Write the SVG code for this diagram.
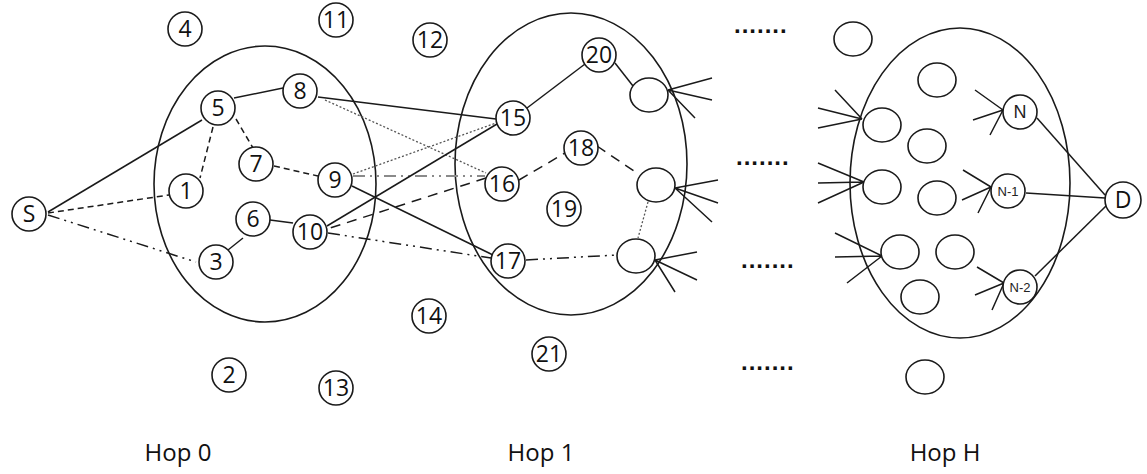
<svg xmlns="http://www.w3.org/2000/svg" width="1147" height="474" viewBox="0 0 1147 474">
<style>
.n{fill:#fff;stroke:#1a1a1a;stroke-width:1.6}
.e{fill:none;stroke:#1a1a1a;stroke-width:1.6}
.t{font-family:"Open Sans","Liberation Sans",sans-serif;font-size:23px;fill:#111;text-anchor:middle;dominant-baseline:central}
.ts{font-family:"Liberation Sans",Arial,sans-serif;fill:#222;text-anchor:middle;dominant-baseline:central}
.hop{font-family:"Open Sans","Liberation Sans",sans-serif;font-size:24px;fill:#111;text-anchor:middle}
.dots{font-family:"Liberation Sans",sans-serif;font-size:24px;font-weight:bold;fill:#111;letter-spacing:1px}
.l{fill:none;stroke:#1a1a1a;stroke-width:1.5}
.dash{stroke-dasharray:6 4}
.ldash{stroke-dasharray:10 7}
.ddd{stroke-dasharray:12 5 2 5 2 5}
.dot{stroke:#555;stroke-dasharray:2 2;stroke-width:1.3}
.gray{stroke:#8a8a8a;stroke-width:2.2;stroke-dasharray:12 5 2 5 2 5}
</style>

<g id="regions">
<ellipse id="hop0" class="e" cx="265" cy="184" rx="111" ry="138"/>
<ellipse id="hop1" class="e" cx="571" cy="164" rx="116" ry="151"/>
<ellipse id="hopH" class="e" cx="960" cy="183" rx="110" ry="155"/>
</g>

<g id="connectors">
<line class="l" x1="48" y1="212" x2="202" y2="120"/>
<line class="l dash" x1="48" y1="213" x2="169" y2="195"/>
<line class="l ddd" x1="48" y1="215" x2="196" y2="262"/>
<line class="l" x1="234" y1="98" x2="283" y2="88"/>
<line class="l dash" x1="213" y1="127" x2="200" y2="178"/>
<line class="l dash" x1="236" y1="119" x2="253" y2="148"/>
<line class="l dash" x1="274" y1="166" x2="318" y2="176"/>
<line class="l" x1="270" y1="220" x2="293" y2="223"/>
<line class="l" x1="228" y1="250" x2="243" y2="238"/>
<line class="l" x1="318" y1="97" x2="496" y2="119"/>
<line class="l dot" x1="325" y1="100" x2="486" y2="173"/>
<line class="l dot" x1="353" y1="174" x2="496" y2="123"/>
<line class="l gray" x1="353" y1="176" x2="485" y2="176"/>
<line class="l" x1="497" y1="124" x2="327" y2="226"/>
<line class="l ldash" x1="486" y1="178" x2="327" y2="229"/>
<line class="l" x1="352" y1="186" x2="493" y2="255"/>
<line class="l ddd" x1="328" y1="233" x2="491" y2="258"/>
<line class="l" x1="527" y1="108" x2="585" y2="64"/>
<line class="l" x1="615" y1="63" x2="633" y2="86"/>
<line class="l ldash" x1="519" y1="180" x2="565" y2="153"/>
<line class="l ldash" x1="597" y1="146" x2="637" y2="173"/>
<line class="l ddd" x1="526" y1="260" x2="617" y2="255"/>
<line class="l dot" x1="648" y1="202" x2="638" y2="238"/>
<path class="l" d="M712 78 L668 90 M712 100 L668 90 M695 118 L668 90"/>
<path class="l" d="M718 180 L675 188 M718 203 L675 188 M712 222 L675 188"/>
<path class="l" d="M697 252 L655 260 M697 280 L655 260 M675 292 L655 260"/>
<path class="l" d="M818 108 L862 119 M818 128 L862 119 M835 90 L862 119"/>
<path class="l" d="M818 163 L864 182 M818 183 L864 182 M818 203 L864 182"/>
<path class="l" d="M835 233 L882 256 M835 257 L882 256 M847 283 L882 256"/>
<path class="l" d="M975 90 L1003 110 M973 120 L1003 110 M990 135 L1003 110"/>
<path class="l" d="M963 170 L991 187 M962 200 L991 187 M978 213 L991 187"/>
<path class="l" d="M977 267 L1004 283 M975 295 L1004 283 M992 310 L1004 283"/>
<line class="l" x1="1037" y1="118" x2="1105" y2="195"/>
<line class="l" x1="1026" y1="193" x2="1105" y2="198"/>
<line class="l" x1="1035" y1="276" x2="1106" y2="206"/>
</g>

<g id="node-S"><circle class="n" cx="29" cy="214" r="17"/><text class="t" x="29" y="213">S</text></g>
<g id="node-4"><circle class="n" cx="185" cy="29" r="17"/><text class="t" x="185" y="28">4</text></g>
<g id="node-11"><circle class="n" cx="336" cy="20" r="17"/><text class="t" x="336" y="19">11</text></g>
<g id="node-12"><circle class="n" cx="430" cy="40" r="17"/><text class="t" x="430" y="39">12</text></g>
<g id="node-5"><circle class="n" cx="218" cy="108" r="17"/><text class="t" x="218" y="107">5</text></g>
<g id="node-8"><circle class="n" cx="300" cy="91" r="17"/><text class="t" x="300" y="90">8</text></g>
<g id="node-7"><circle class="n" cx="256" cy="164" r="17"/><text class="t" x="256" y="163">7</text></g>
<g id="node-9"><circle class="n" cx="335" cy="180" r="17"/><text class="t" x="335" y="179">9</text></g>
<g id="node-1"><circle class="n" cx="186" cy="191" r="17"/><text class="t" x="186" y="190">1</text></g>
<g id="node-6"><circle class="n" cx="253" cy="219" r="17"/><text class="t" x="253" y="218">6</text></g>
<g id="node-10"><circle class="n" cx="310" cy="232" r="17"/><text class="t" x="310" y="231">10</text></g>
<g id="node-3"><circle class="n" cx="216" cy="262" r="17"/><text class="t" x="216" y="261">3</text></g>
<g id="node-2"><circle class="n" cx="229" cy="375" r="17"/><text class="t" x="229" y="374">2</text></g>
<g id="node-13"><circle class="n" cx="336" cy="388" r="17"/><text class="t" x="336" y="387">13</text></g>
<g id="node-14"><circle class="n" cx="429" cy="316" r="17"/><text class="t" x="429" y="315">14</text></g>
<g id="node-15"><circle class="n" cx="513" cy="118" r="17"/><text class="t" x="513" y="117">15</text></g>
<g id="node-16"><circle class="n" cx="502" cy="184" r="17"/><text class="t" x="502" y="183">16</text></g>
<g id="node-18"><circle class="n" cx="581" cy="148" r="17"/><text class="t" x="581" y="147">18</text></g>
<g id="node-19"><circle class="n" cx="564" cy="209" r="17"/><text class="t" x="564" y="208">19</text></g>
<g id="node-20"><circle class="n" cx="599" cy="55" r="17"/><text class="t" x="599" y="54">20</text></g>
<g id="node-17"><circle class="n" cx="508" cy="261" r="17"/><text class="t" x="508" y="260">17</text></g>
<g id="node-21"><circle class="n" cx="549" cy="354" r="17"/><text class="t" x="549" y="353">21</text></g>

<g id="node-h1a"><ellipse class="n" cx="649" cy="95" rx="19" ry="17"/></g>
<g id="node-h1b"><ellipse class="n" cx="656" cy="185" rx="19" ry="17"/></g>
<g id="node-h1c"><ellipse class="n" cx="636" cy="256" rx="19" ry="17"/></g>

<g id="node-hH1"><ellipse class="n" cx="853" cy="39" rx="19" ry="17"/></g>
<g id="node-hH2"><ellipse class="n" cx="937" cy="80" rx="19" ry="17"/></g>
<g id="node-hH3"><ellipse class="n" cx="882" cy="125" rx="19" ry="17"/></g>
<g id="node-hH4"><ellipse class="n" cx="927" cy="146" rx="19" ry="17"/></g>
<g id="node-hH5"><ellipse class="n" cx="882" cy="187" rx="19" ry="17"/></g>
<g id="node-hH6"><ellipse class="n" cx="937" cy="198" rx="19" ry="17"/></g>
<g id="node-hH7"><ellipse class="n" cx="900" cy="252" rx="19" ry="17"/></g>
<g id="node-hH8"><ellipse class="n" cx="955" cy="252" rx="19" ry="17"/></g>
<g id="node-hH9"><ellipse class="n" cx="920" cy="297" rx="19" ry="17"/></g>
<g id="node-hH10"><ellipse class="n" cx="925" cy="377" rx="19" ry="17"/></g>

<g id="node-N"><circle class="n" cx="1020" cy="112" r="17"/><text class="ts" x="1020" y="112" font-size="18">N</text></g>
<g id="node-N-1"><circle class="n" cx="1008" cy="191" r="17"/><text class="ts" x="1008" y="191" font-size="13">N-1</text></g>
<g id="node-N-2"><circle class="n" cx="1020" cy="287" r="17"/><text class="ts" x="1020" y="287" font-size="13">N-2</text></g>
<g id="node-D"><circle class="n" cx="1123" cy="200" r="18"/><text class="t" x="1123" y="199">D</text></g>

<g id="ellipsis-marks">
<text class="dots" x="734" y="33">.......</text>
<text class="dots" x="736" y="165">.......</text>
<text class="dots" x="741" y="268">.......</text>
<text class="dots" x="741" y="370">.......</text>
</g>

<g id="labels">
<text class="hop" x="178" y="461">Hop 0</text>
<text class="hop" x="541" y="461">Hop 1</text>
<text class="hop" x="945" y="461">Hop H</text>
</g>
</svg>
